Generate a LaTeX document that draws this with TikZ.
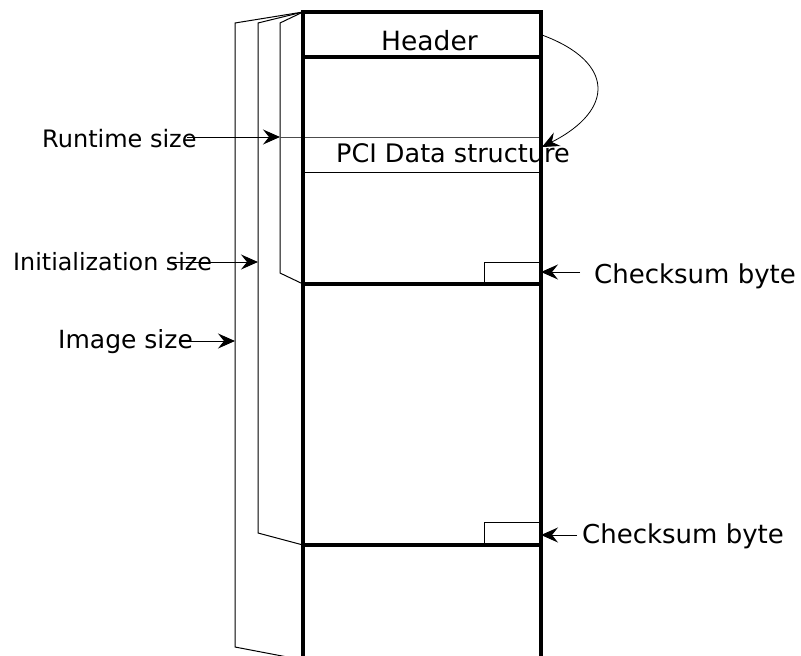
\documentclass[tikz,border=0pt]{standalone}
\usepackage{fontspec}
\setmainfont{DejaVu Sans}
\usetikzlibrary{arrows.meta}
\begin{document}
\begin{tikzpicture}[x=1pt,y=-1pt,
  thickln/.style={line width=3.4pt},
  thinln/.style={line width=1pt},
  lbl/.style={anchor=base west,inner sep=0pt,font=\fontsize{#1}{29}\selectfont},
  lbl/.default=24.5,
  ptr/.style={thinln,-{Stealth[length=17pt,width=15pt,inset=6pt]}}]
\useasboundingbox (0,0) rectangle (801,656);
% main column corners
\coordinate (tl) at (303,12);
\coordinate (tr) at (541,12);
\coordinate (bl) at (303,660);
\coordinate (br) at (541,660);
% brackets
\coordinate (rtTop) at (280,23);
\coordinate (rtBot) at (280,273);
\coordinate (rtEnd) at (303,284);
\coordinate (inTop) at (258,23);
\coordinate (inBot) at (258,533);
\coordinate (inEnd) at (303,545);
\coordinate (imTop) at (235,23);
\coordinate (imBot) at (235,647);
\coordinate (imEnd) at (303,660);
\draw[thinln] (tl) -- (rtTop) -- (rtBot) -- (rtEnd);
\draw[thinln] (tl) -- (inTop) -- (inBot) -- (inEnd);
\draw[thinln] (tl) -- (imTop) -- (imBot) -- (imEnd);
% PCI data structure rows
\draw[thinln,black!70] (280,137) -- (541,137);
\draw[thinln] (303,172) -- (541,172);
% checksum boxes
\node[draw,thinln,inner sep=0pt,minimum width=56pt,minimum height=21pt,anchor=south east] (cs1) at (541,284) {};
\node[draw,thinln,inner sep=0pt,minimum width=56pt,minimum height=22pt,anchor=south east] (cs2) at (541,545) {};
% main column
\draw[thickln] (bl) -- (tl) -- (tr) -- (br);
\draw[thickln] (303,57) -- (541,57);
\draw[thickln] (303,284) -- (541,284);
\draw[thickln] (303,545) -- (541,545);
% texts
\node[lbl=26.5] (hdr) at (381,50) {Header};
\node[lbl=25.5] (pci) at (336,162) {PCI Data structure};
\node[lbl=24] (rt) at (42,147) {Runtime size};
\node[lbl=23.8] (init) at (13,270) {Initialization size};
\node[lbl=25] (img) at (58,348) {Image size};
\node[lbl=26] (ck1) at (594,283) {Checksum byte};
\node[lbl=26] (ck2) at (582,543) {Checksum byte};
% arrows
\coordinate (rtS) at (187,137);
\coordinate (rtA) at (280,137);
\coordinate (inS) at (168,262);
\coordinate (inA) at (258,262);
\coordinate (imS) at (180,341);
\coordinate (imA) at (235,341);
\coordinate (c1S) at (580,272);
\coordinate (c1A) at (541,272);
\coordinate (c2S) at (577,535);
\coordinate (c2A) at (541,535);
\draw[ptr] (rtS) -- (rtA);
\draw[ptr] (inS) -- (inA);
\draw[ptr] (imS) -- (imA);
\draw[ptr] (c1S) -- (c1A);
\draw[ptr] (c2S) -- (c2A);
\coordinate (hS) at (542,35);
\coordinate (hA) at (542,147);
\draw[ptr,line width=0.8pt] (hS) .. controls (615,62) and (615,110) .. (hA);
\end{tikzpicture}
\end{document}
